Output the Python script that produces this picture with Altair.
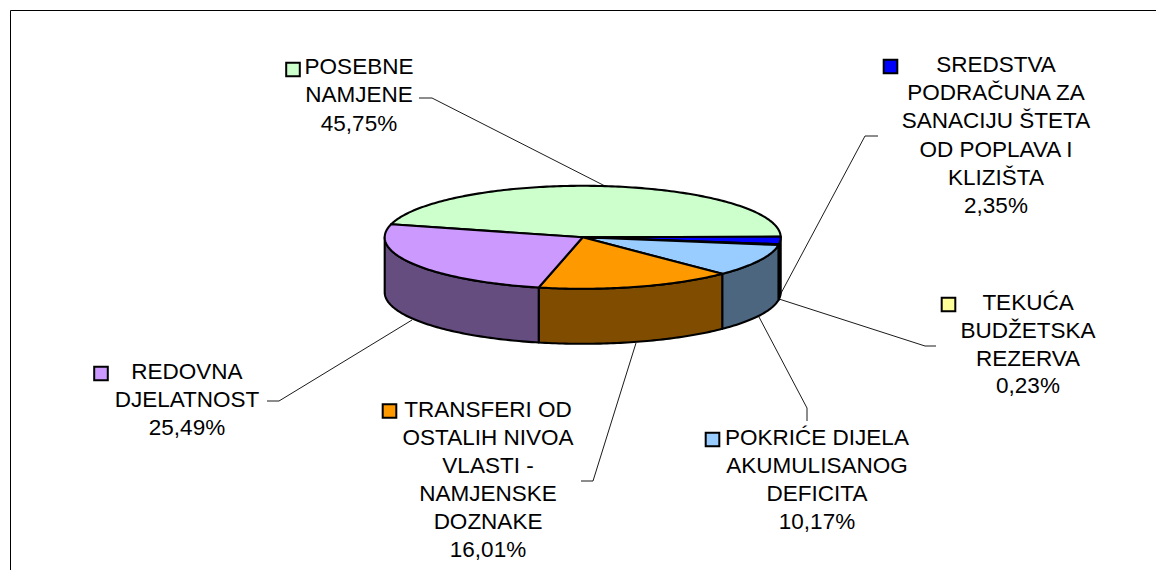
import math
import altair as alt
import numpy as np
import pandas as pd

# --- values ---
names = ["POSEBNE NAMJENE", "SREDSTVA", "TEKUĆA", "POKRIĆE", "TRANSFERI", "REDOVNA"]
shares = [45.75, 2.35, 0.23, 10.17, 16.01, 25.49]
top_colors = ["#CCFFCC", "#0000FF", "#FFFF99", "#99CCFF", "#FF9900", "#CC99FF"]
side_colors = ["#668066", "#000060", "#80804D", "#4D6680", "#804D00", "#664D80"]
label_lines = [
    ["POSEBNE", "NAMJENE"],
    ["SREDSTVA", "PODRAČUNA ZA", "SANACIJU ŠTETA", "OD POPLAVA I", "KLIZIŠTA"],
    ["TEKUĆA", "BUDŽETSKA", "REZERVA"],
    ["POKRIĆE DIJELA", "AKUMULISANOG", "DEFICITA"],
    ["TRANSFERI OD", "OSTALIH NIVOA", "VLASTI -", "NAMJENSKE", "DOZNAKE"],
    ["REDOVNA", "DJELATNOST"],
]

# --- layout of the labels (page pixels) ---
label_cx = [359, 996, 1028, 817, 488, 187]
label_y0 = [67, 65, 303, 438, 410, 372]
label_dy = [28.3, 28.2, 27.8, 28, 28, 28]
key_xy = [(293, 69.5), (890.5, 66.5), (948.5, 304.5), (712.5, 439.5), (389.5, 411), (101, 373.5)]
leaders = [
    [(419, 98), (432, 98), (605, 186)],
    [(878, 136), (865, 136), (779, 297)],
    [(936, 346), (925, 346), (779, 299)],
    [(807, 421), (807, 408), (759, 317)],
    [(581, 481), (593, 481), (636, 343)],
    [(267, 401), (279, 401), (412, 320)],
]

W, H = 1146, 560
OX, OY = 10, 10  # page pixel at the chart's origin
frame = [(OX + W, OY + 0.5), (OX + 0.5, OY + 0.5), (OX + 0.5, OY + H)]
CX, CY, RX, RY, DEPTH = 582.7, 237.3, 198, 51.5, 55
START = 284.6  # clockwise from the top of the ellipse


def pt(deg, dy=0.0):
    a = math.radians(deg)
    return [CX + RX * math.sin(a), CY - RY * math.cos(a) + dy]


def arc(a, b):
    n = max(2, int(abs(b - a)) + 2)
    return [float(v) for v in np.linspace(a, b, n)]


def feature(name, ring):
    return {"type": "Feature", "properties": {"name": name},
            "geometry": {"type": "Polygon", "coordinates": [ring]}}


tops, sides = [], []
angle = START
for name, share in zip(names, shares):
    a0, a1 = angle, angle + share * 3.6
    ring = [[CX, CY]] + [pt(t) for t in arc(a0, a1)] + [[CX, CY]]
    tops.append(feature(name, ring))
    # front wall: the part of the rim between 90 and 270 degrees
    for shift in (0, 360):
        lo, hi = max(a0 - shift, 90), min(a1 - shift, 270)
        if hi > lo:
            ts = arc(lo, hi)
            wall = [pt(t) for t in ts] + [pt(t, DEPTH) for t in reversed(ts)]
            sides.append(feature(name, wall + [wall[0]]))
    angle = a1

x_s = alt.Scale(domain=[OX, OX + W], range=[0, W], nice=False, zero=False)
y_s = alt.Scale(domain=[OY, OY + H], range=[0, H], nice=False, zero=False)
X = lambda f: alt.X(f, type="quantitative", scale=x_s, axis=None)
Y = lambda f: alt.Y(f, type="quantitative", scale=y_s, axis=None)

side_layer = alt.Chart(alt.Data(values=sides)).mark_geoshape(
    stroke="black", strokeWidth=2.1, strokeJoin="round"
).encode(fill=alt.Fill("properties.name:N", scale=alt.Scale(domain=names, range=side_colors), legend=None)).project(
    type="identity", scale=1, translate=[-OX, -OY])

top_layer = alt.Chart(alt.Data(values=tops)).mark_geoshape(
    stroke="black", strokeWidth=2.1, strokeJoin="round"
).encode(fill=alt.Fill("properties.name:N", scale=alt.Scale(domain=names, range=top_colors), legend=None)).project(
    type="identity", scale=1, translate=[-OX, -OY])

line_rows = []
for i, path in enumerate(leaders):
    for j, (x, y) in enumerate(path):
        line_rows.append({"x": x, "y": y, "id": f"l{i}", "o": j})
leader_layer = alt.Chart(pd.DataFrame(line_rows)).mark_line(color="black", strokeWidth=0.9).encode(
    x=X("x"), y=Y("y"), detail="id:N", order="o:Q")

frame_df = pd.DataFrame([{"x": x, "y": y, "o": j} for j, (x, y) in enumerate(frame)])
frame_layer = alt.Chart(frame_df).mark_line(color="black", strokeWidth=1).encode(
    x=X("x"), y=Y("y"), order="o:Q")

text_rows = []
for name, share, lines, cx, y0, dy in zip(names, shares, label_lines, label_cx, label_y0, label_dy):
    rows = lines + [f"{share:.2f}".replace(".", ",") + "%"]
    for k, t in enumerate(rows):
        text_rows.append({"x": cx, "y": y0 + k * dy, "t": t})
text_layer = alt.Chart(pd.DataFrame(text_rows)).mark_text(
    font="Liberation Sans", fontSize=22.5, color="black", align="center", baseline="middle", clip=False
).encode(x=X("x"), y=Y("y"), text="t:N")

key_df = pd.DataFrame({"x": [k[0] for k in key_xy], "y": [k[1] for k in key_xy], "name": names})
key_layer = alt.Chart(key_df).mark_point(shape="square", filled=True, size=185, stroke="black", strokeWidth=2, opacity=1).encode(
    x=X("x"), y=Y("y"),
    fill=alt.Fill("name:N", scale=alt.Scale(domain=names, range=top_colors), legend=None))

chart = alt.layer(frame_layer, leader_layer, side_layer, top_layer, key_layer, text_layer).resolve_scale(
    fill="independent"
).properties(width=W, height=H, padding=0, background="white").configure_view(stroke=None)

chart.save("out.html", embed_options={"renderer": "svg", "actions": False})
